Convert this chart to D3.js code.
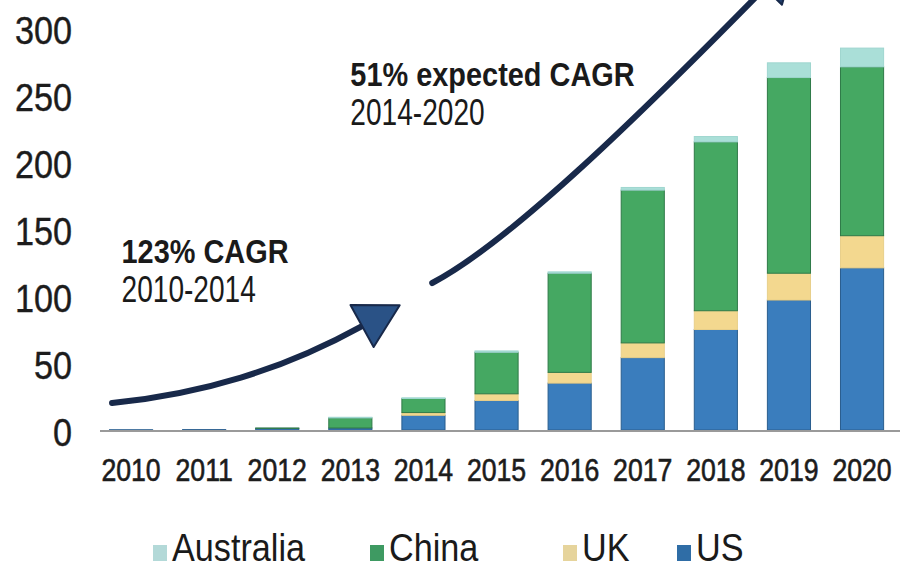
<!DOCTYPE html>
<html>
<head>
<meta charset="utf-8">
<script src="https://cdn.jsdelivr.net/npm/d3@7"></script>
<style>
  html, body { margin: 0; padding: 0; background: #ffffff; }
  svg { display: block; font-family: "Liberation Sans", Arial, sans-serif; }
</style>
</head>
<body>
<svg id="chart" width="907" height="568"></svg>
<script>
// ---------------- data ----------------
const years = ["2010","2011","2012","2013","2014","2015","2016","2017","2018","2019","2020"];
const seriesNames = ["US","UK","China","Australia"];           // stacking order, bottom to top
const usValues        = [0.2, 0.3, 1.2, 1.5, 11, 22, 35, 54, 75, 97, 121];
const ukValues        = [0,   0,   0,   0,   2,  5,  8,  11, 14, 20, 24];
const chinaValues     = [0,   0,   0.3, 7.5, 10.5, 31, 74, 114, 126, 146, 126];
const australiaValues = [0,   0,   0,   0.5, 0.5, 1,  1,  2,  4,  11, 14];
const yTicks = [0, 50, 100, 150, 200, 250, 300];
const legendOrder = ["Australia","China","UK","US"];

// annotation arrows, in data units (year position, value)
const arrow1 = [[2009.74, 20.1], [2010.97, 26.9], [2012.07, 44.8], [2013.16, 77.6]];
const arrow2 = [[2014.12, 109.7], [2015.21, 141.0], [2017.03, 238.8], [2018.67, 329.9]];
const notes = [
  { bold: "123% CAGR", sub: "2010-2014", year: 2009.87, value: 125 },
  { bold: "51% expected CAGR", sub: "2014-2020", year: 2013.0, value: 257 }
];

// ---------------- styles ----------------
const fills   = { US: "#3a7dbd", UK: "#f3d88f", China: "#45a862", Australia: "#aadfd8" };
const strokes = { US: "#2a5e8e", UK: "#e8cf8a", China: "#2f7a48", Australia: "#9fd6cf" };
const legendFills = { US: "#2f6da6", UK: "#e6d49c", China: "#3e9a62", Australia: "#b3d9d8" };
const navy = "#18294a";

const svg = d3.select("#chart");

// ---------------- scales ----------------
const x = d3.scaleBand().domain(years).range([94.5, 898.6]).paddingInner(0.41).paddingOuter(0.205);
const y = d3.scaleLinear().domain([0, 300]).range([430, 28]);
// continuous year position scale for annotations
const xc = d3.scaleLinear().domain([2010, 2020])
  .range([x("2010") + x.bandwidth() / 2, x("2020") + x.bandwidth() / 2]);

function squish(sel, f) {
  sel.each(function () {
    const w = this.getComputedTextLength();
    d3.select(this).attr("textLength", w * f).attr("lengthAdjust", "spacingAndGlyphs");
  });
}

// ---------------- stacked bars ----------------
const table = years.map((yr, i) => ({
  year: yr, US: usValues[i], UK: ukValues[i], China: chinaValues[i], Australia: australiaValues[i]
}));
const stacked = d3.stack().keys(seriesNames)(table);

svg.append("g").selectAll("g").data(stacked).join("g")
  .attr("fill", d => fills[d.key])
  .attr("stroke", d => strokes[d.key])
  .attr("stroke-width", 1)
  .selectAll("rect").data(d => d).join("rect")
  .attr("x", d => x(d.data.year))
  .attr("width", x.bandwidth())
  .attr("y", d => y(d[1]))
  .attr("height", d => Math.max(0, y(d[0]) - y(d[1])));

// baseline
svg.append("line")
  .attr("x1", 100).attr("x2", 900)
  .attr("y1", y(0) + 1).attr("y2", y(0) + 1)
  .attr("stroke", "#9a9a9a").attr("stroke-width", 2);

// ---------------- axes (labels only) ----------------
const yAxis = svg.append("g").attr("transform", "translate(72,3)")
  .call(d3.axisLeft(y).tickValues(yTicks).tickSize(0).tickPadding(0));
yAxis.select(".domain").remove();
yAxis.selectAll("text")
  .attr("font-size", 38).attr("fill", "#1c1c1c")
  .attr("stroke", "#1c1c1c").attr("stroke-width", 0.4)
  .attr("font-family", "'Liberation Sans', Arial, sans-serif")
  .call(squish, 0.9);

const xAxis = svg.append("g").attr("transform", "translate(0,458)")
  .call(d3.axisBottom(x).tickSize(0).tickPadding(0));
xAxis.select(".domain").remove();
xAxis.selectAll("text")
  .attr("font-size", 31).attr("fill", "#1c1c1c").attr("dy", "0.75em")
  .attr("stroke", "#1c1c1c").attr("stroke-width", 0.6)
  .attr("font-family", "'Liberation Sans', Arial, sans-serif")
  .call(squish, 0.86);

// ---------------- arrows ----------------
function arrow(points, headFill) {
  const p = points.map(([a, b]) => [xc(a), y(b)]);
  const path = d3.path();
  path.moveTo(p[0][0], p[0][1]);
  path.bezierCurveTo(p[1][0], p[1][1], p[2][0], p[2][1], p[3][0], p[3][1]);
  svg.append("path").attr("d", path.toString())
    .attr("fill", "none").attr("stroke", navy).attr("stroke-width", 6).attr("stroke-linecap", "round");
  const dx = p[3][0] - p[2][0], dy = p[3][1] - p[2][1];
  const L = Math.hypot(dx, dy), ux = dx / L, uy = dy / L;
  const len = 43, hw = 24;
  const tip = [p[3][0] + ux * len, p[3][1] + uy * len];
  const c1 = [p[3][0] - uy * hw, p[3][1] + ux * hw];
  const c2 = [p[3][0] + uy * hw, p[3][1] - ux * hw];
  svg.append("path").attr("d", d3.line()([tip, c1, c2]) + "Z")
    .attr("fill", headFill).attr("stroke", navy).attr("stroke-width", 2).attr("stroke-linejoin", "round");
}
arrow(arrow1, "#2a5286");
arrow(arrow2, "#22406e");

// ---------------- annotation text ----------------
notes.forEach(n => {
  svg.append("text").attr("x", xc(n.year)).attr("y", y(n.value))
    .attr("font-size", 34).attr("font-weight", "bold").attr("fill", "#1a1a1a")
    .text(n.bold).call(squish, 0.85);
  svg.append("text").attr("x", xc(n.year)).attr("y", y(n.value) + 39)
    .attr("font-size", 36).attr("fill", "#1a1a1a")
    .text(n.sub).call(squish, 0.78);
});

// ---------------- legend ----------------
const legendX = { Australia: 153, China: 370, UK: 563, US: 677 };
const lg = svg.append("g").selectAll("g").data(legendOrder).join("g")
  .attr("transform", d => `translate(${legendX[d]},545)`);
lg.append("rect").attr("width", 14).attr("height", 16).attr("fill", d => legendFills[d]);
lg.append("text").attr("x", 19).attr("y", 16)
  .attr("font-size", 38).attr("fill", "#1a1a1a")
  .text(d => d).call(squish, 0.9);
</script>
</body>
</html>
